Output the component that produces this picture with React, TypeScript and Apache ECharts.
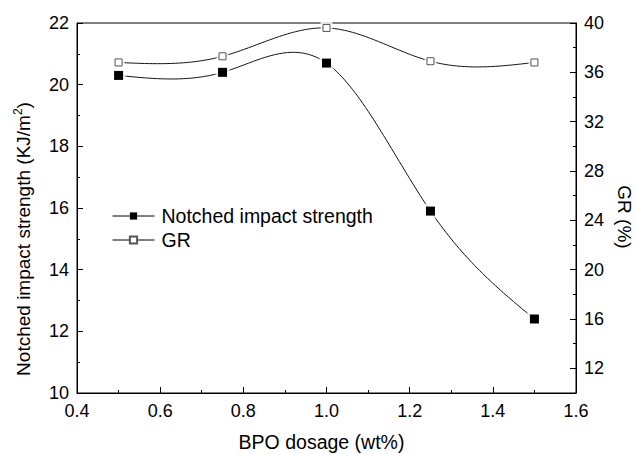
import React, { useEffect, useRef } from "react";
import * as echarts from "echarts";

const dosage = [0.5, 0.75, 1.0, 1.25, 1.5];
const impactStrength = [20.3, 20.4, 20.7, 15.9, 12.4];
const grValues = [36.8, 37.3, 39.6, 36.9, 36.8];
const grLabelValues = [12, 16, 20, 24, 28, 32, 36, 40];
const grMajorTicks = [12, 16, 20, 24, 28, 32, 36, 40];
const legendNames = ["Notched impact strength", "GR"];

const FONT = "'Liberation Sans', Arial, Helvetica, sans-serif";

function splineSecondDerivs(xs: number[], ys: number[]): number[] {
  const n = xs.length;
  const M = new Array(n).fill(0);
  if (n < 3) return M;
  const a: number[] = [], b: number[] = [], c: number[] = [], d: number[] = [];
  for (let i = 1; i < n - 1; i++) {
    const h0 = xs[i] - xs[i - 1];
    const h1 = xs[i + 1] - xs[i];
    a.push(h0);
    b.push(2 * (h0 + h1));
    c.push(h1);
    d.push(6 * ((ys[i + 1] - ys[i]) / h1 - (ys[i] - ys[i - 1]) / h0));
  }
  const m = b.length;
  for (let i = 1; i < m; i++) {
    const w = a[i] / b[i - 1];
    b[i] -= w * c[i - 1];
    d[i] -= w * d[i - 1];
  }
  const sol = new Array(m);
  sol[m - 1] = d[m - 1] / b[m - 1];
  for (let i = m - 2; i >= 0; i--) sol[i] = (d[i] - c[i] * sol[i + 1]) / b[i];
  for (let i = 0; i < m; i++) M[i + 1] = sol[i];
  return M;
}

function makeCurve(xs: number[], ys: number[]) {
  const M = splineSecondDerivs(xs, ys);
  return (params: any, api: any) => {
    const i = params.dataIndex;
    if (i >= xs.length - 1) return { type: "group", children: [] };
    const x0 = xs[i], x1 = xs[i + 1], h = x1 - x0;
    const pts: number[][] = [];
    const steps = 40;
    for (let k = 0; k <= steps; k++) {
      const x = x0 + (h * k) / steps;
      const A = x1 - x, B = x - x0;
      const y =
        (M[i] * A * A * A) / (6 * h) +
        (M[i + 1] * B * B * B) / (6 * h) +
        (ys[i] / h - (M[i] * h) / 6) * A +
        (ys[i + 1] / h - (M[i + 1] * h) / 6) * B;
      pts.push(api.coord([x, y]));
    }
    return {
      type: "polyline",
      shape: { points: pts },
      style: { stroke: "#111", lineWidth: 1, fill: "none" },
    };
  };
}

export default function App() {
  const ref = useRef<HTMLDivElement>(null);
  useEffect(() => {
    if (!ref.current) return;
    const chart = echarts.init(ref.current, undefined, { renderer: "svg" });
    const strengthData = dosage.map((x, i) => [x, impactStrength[i]]);
    const grData = dosage.map((x, i) => [x, grValues[i]]);
    const axisLineStyle = { color: "#000", width: 1 };
    const option: any = {
      animation: false,
      backgroundColor: "#fff",
      textStyle: { fontFamily: FONT, color: "#000" },
      grid: {
        left: 77,
        right: 61,
        top: 23,
        bottom: 61,
        containLabel: false,
        outerBoundsMode: "none",
        show: true,
        borderColor: "#000",
        borderWidth: 1,
        backgroundColor: "transparent",
      },
      legend: {
        orient: "vertical",
        left: 112,
        top: 206,
        padding: 0,
        itemWidth: 42,
        itemHeight: 9,
        itemGap: 4,
        data: legendNames,
        textStyle: { fontSize: 19.5, color: "#000", fontFamily: FONT, padding: [0, 0, 0, 2] },
        lineStyle: { color: "#000", width: 1, opacity: 1 },
      },
      xAxis: {
        type: "value",
        min: 0.4,
        max: 1.6,
        interval: 0.2,
        name: "BPO dosage (wt%)",
        nameLocation: "middle",
        nameGap: 39,
        nameTextStyle: { fontSize: 19.5, color: "#000", fontFamily: FONT, padding: [0, 10, 0, 0] },
        axisLine: { show: true, onZero: false, lineStyle: axisLineStyle },
        axisTick: { show: true, inside: true, length: 6, lineStyle: axisLineStyle },
        minorTick: { show: true, splitNumber: 2, length: 3, lineStyle: axisLineStyle },
        axisLabel: {
          fontSize: 18,
          color: "#000",
          margin: 9,
          fontFamily: FONT,
          formatter: (v: number) => v.toFixed(1),
        },
        splitLine: { show: false },
      },
      yAxis: [
        {
          type: "value",
          position: "left",
          min: 10,
          max: 22,
          interval: 2,
          name: "{a|Notched impact strength (KJ/m}{s|2}{a|)}",
          nameLocation: "middle",
          nameRotate: 90,
          nameGap: 43,
          nameTextStyle: {
            fontSize: 19,
            color: "#000",
            fontFamily: FONT,
            padding: [0, 62, 0, 0],
            rich: {
              a: { fontSize: 19, lineHeight: 22, fontFamily: FONT, color: "#000" },
              s: { fontSize: 12, lineHeight: 12, verticalAlign: "top", fontFamily: FONT, color: "#000" },
            },
          },
          axisLine: { show: true, onZero: false, lineStyle: axisLineStyle },
          axisTick: { show: true, inside: true, length: 6, lineStyle: axisLineStyle },
          minorTick: { show: true, splitNumber: 2, length: 3, lineStyle: axisLineStyle },
          axisLabel: { fontSize: 18, color: "#000", margin: 8, fontFamily: FONT },
          splitLine: { show: false },
        },
        {
          type: "value",
          position: "right",
          min: 10,
          max: 40,
          interval: 2,
          name: "GR (%)",
          nameLocation: "middle",
          nameRotate: -90,
          nameGap: 39,
          nameTextStyle: { fontSize: 19, color: "#000", fontFamily: FONT, padding: [0, 0, 0, 18] },
          axisLine: { show: true, onZero: false, lineStyle: axisLineStyle },
          axisTick: { show: true, inside: true, length: 3, lineStyle: axisLineStyle },
          axisLabel: {
            fontSize: 18,
            color: "#000",
            margin: 8,
            fontFamily: FONT,
            customValues: grLabelValues,
          },
          splitLine: { show: false },
        },
        {
          type: "value",
          position: "right",
          min: 10,
          max: 40,
          interval: 2,
          axisLine: { show: false },
          axisTick: {
            show: true,
            inside: true,
            length: 6,
            lineStyle: axisLineStyle,
            customValues: grMajorTicks,
          },
          axisLabel: { show: false },
          splitLine: { show: false },
        },
      ],
      series: [
        {
          type: "custom",
          name: "strengthCurve",
          renderItem: makeCurve(dosage, impactStrength),
          data: strengthData,
          encode: { x: 0, y: 1 },
          xAxisIndex: 0,
          yAxisIndex: 0,
          z: 2,
          silent: true,
          clip: false,
        },
        {
          type: "custom",
          name: "grCurve",
          renderItem: makeCurve(dosage, grValues),
          data: grData,
          encode: { x: 0, y: 1 },
          xAxisIndex: 0,
          yAxisIndex: 1,
          z: 2,
          silent: true,
          clip: false,
        },
        {
          type: "scatter",
          name: "strengthGap",
          data: strengthData,
          yAxisIndex: 0,
          symbol: "rect",
          symbolSize: 14,
          itemStyle: { color: "#fff" },
          z: 3,
          silent: true,
        },
        {
          type: "scatter",
          name: "grGap",
          data: grData,
          yAxisIndex: 1,
          symbol: "rect",
          symbolSize: 12,
          itemStyle: { color: "#fff" },
          z: 3,
          silent: true,
        },
        {
          type: "line",
          name: legendNames[0],
          data: strengthData,
          yAxisIndex: 0,
          symbol: "rect",
          symbolSize: 9,
          showSymbol: true,
          itemStyle: { color: "#000" },
          lineStyle: { opacity: 0, color: "#000" },
          z: 4,
        },
        {
          type: "line",
          name: legendNames[1],
          data: grData,
          yAxisIndex: 1,
          symbol: "rect",
          symbolSize: 7,
          showSymbol: true,
          itemStyle: { color: "#fff", borderColor: "#555", borderWidth: 1 },
          lineStyle: { opacity: 0, color: "#000" },
          z: 4,
        },
      ],
    };
    chart.setOption(option);
    return () => chart.dispose();
  }, []);
  return (
    <div
      ref={ref}
      style={{ position: "absolute", left: 0, top: 0, width: 637, height: 454, background: "#fff" }}
    />
  );
}
